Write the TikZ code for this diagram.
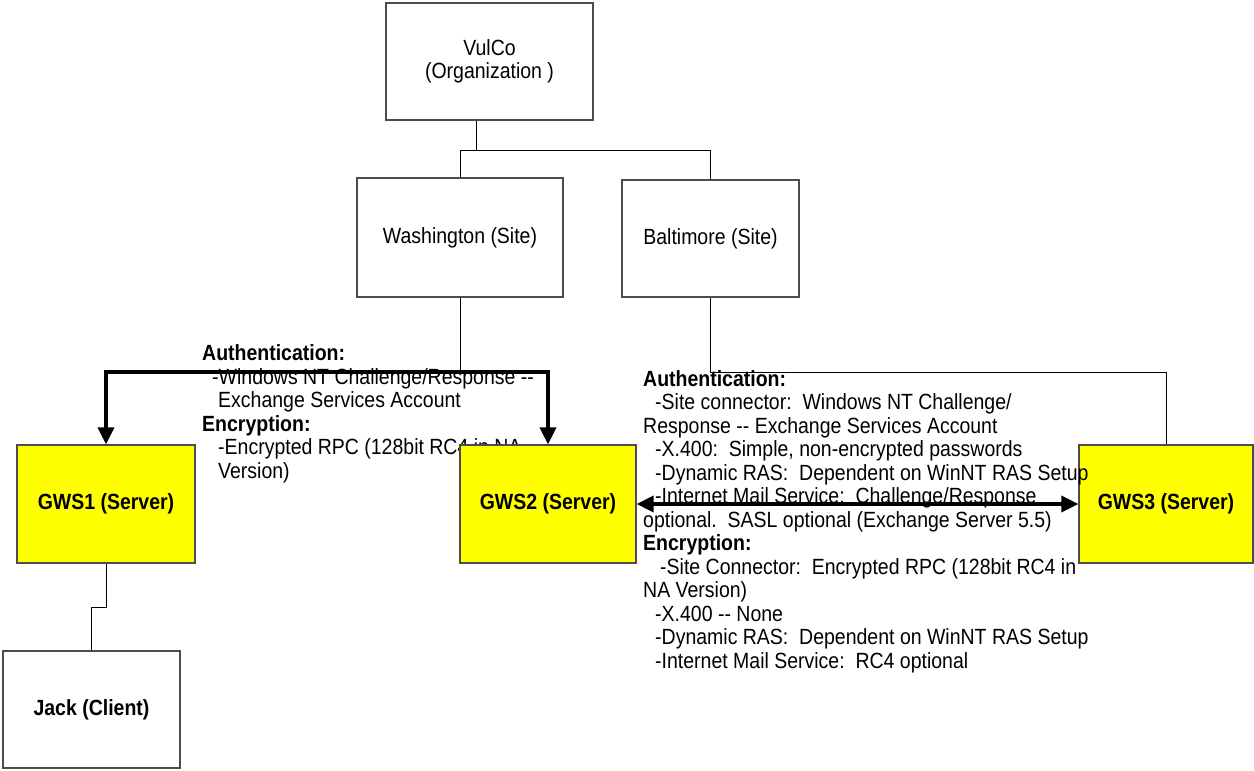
\documentclass[tikz,border=0pt]{standalone}
\usepackage{fontspec}
\setmainfont{Liberation Sans}[Ligatures=TeXOff, FakeStretch=0.886]
\usetikzlibrary{arrows.meta}
\definecolor{serveryellow}{RGB}{255,255,0}
\newcommand\diagfont{\fontsize{22}{23.5}\selectfont}
\frenchspacing

\begin{document}
\begin{tikzpicture}[
  x=1pt, y=-1pt,
  box/.style={draw=black!70, line width=1.2pt, inner sep=0pt, minimum width=177pt, minimum height=118pt, align=center, font=\diagfont},
  server/.style={box, fill=serveryellow, font=\diagfont\bfseries},
  notes/.style={anchor=base west, inner sep=0pt, align=left, font=\diagfont},
  wire/.style={line width=1pt},
  link/.style={line width=3.5pt, {Triangle[length=17pt,width=16pt]}-{Triangle[length=17pt,width=16pt]}}
]

\useasboundingbox (0,0) rectangle (1254,771);

% Notes on the Washington link (under the boxes); placed by their last line
\node[notes] (washnotes) at (202,478) {\textbf{Authentication:}\\
  \hspace*{10pt}-Windows NT Challenge/Response --\\
  \hspace*{16pt}Exchange Services Account\\
  \textbf{Encryption:}\\
  \hspace*{16pt}-Encrypted RPC (128bit RC4 in NA\\
  \hspace*{16pt}Version)};

% Nodes
\node[box, minimum width=207pt, minimum height=117pt] (org) at (489.5,61.5) {VulCo\\(Organization )};
\node[box, minimum width=206pt, minimum height=119pt] (wash) at (460,237.5) {Washington (Site)};
\node[box, minimum height=117pt] (balt) at (710.5,238.5) {Baltimore (Site)};
\node[server, minimum width=178pt] (gws1) at (106,504) {GWS1 (Server)};
\node[server, minimum width=176pt] (gws2) at (548,504) {GWS2 (Server)};
\node[server, minimum width=174pt] (gws3) at (1166,504) {GWS3 (Server)};
\node[box, font=\diagfont\bfseries, minimum height=117pt] (jack) at (91.5,709.5) {Jack (Client)};

% Notes on the Baltimore link
\node[notes] (baltnotes) at (643,668) {\textbf{Authentication:}\\
  \hspace*{12pt}-Site connector:\ \ Windows NT Challenge/\\
  Response -- Exchange Services Account\\
  \hspace*{12pt}-X.400:\ \ Simple, non-encrypted passwords\\
  \hspace*{12pt}-Dynamic RAS:\ \ Dependent on WinNT RAS Setup\\
  \hspace*{12pt}-Internet Mail Service:\ \ Challenge/Response\\
  optional.\ \ SASL optional (Exchange Server 5.5)\\
  \textbf{Encryption:}\\
  \hspace*{17pt}-Site Connector:\ \ Encrypted RPC (128bit RC4 in\\
  NA Version)\\
  \hspace*{12pt}-X.400 -- None\\
  \hspace*{12pt}-Dynamic RAS:\ \ Dependent on WinNT RAS Setup\\
  \hspace*{12pt}-Internet Mail Service:\ \ RC4 optional};

% Tree lines
\coordinate (split) at (476,150);
\coordinate (washjoin) at (460,372);
\coordinate (baltjoin) at (1166,372);
\draw[wire] ([xshift=-13.5pt]org.south) -- (split);
\draw[wire] (wash.north) |- (split -| balt.north) -- (balt.north);
\draw[wire] (wash.south) -- (washjoin);
\draw[wire] (balt.south) |- (baltjoin) -- (gws3.north);
\draw[wire] (gws1.south) -- ++(0,44) -| (jack.north);

% Secured links
\draw[link] (gws1.north) |- (washjoin) -| (gws2.north);
\draw[link] (gws2.east) -- (gws3.west);

\end{tikzpicture}
\end{document}
